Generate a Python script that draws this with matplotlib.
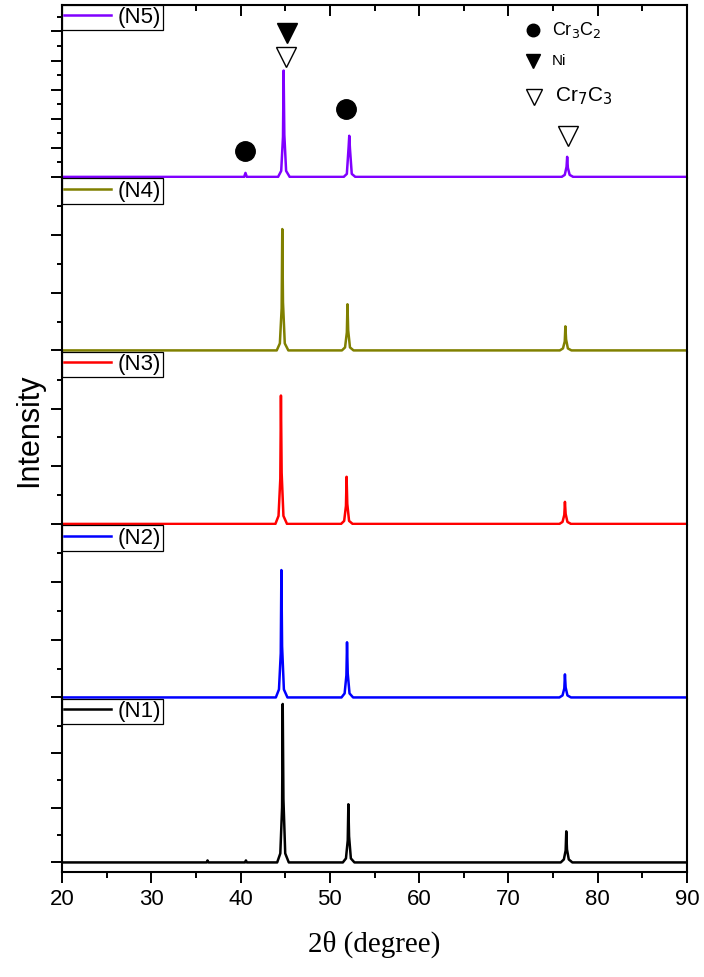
import matplotlib.pyplot as plt
from matplotlib.ticker import MultipleLocator

plt.rcParams['font.family'] = ['Liberation Sans', 'DejaVu Sans']

# XRD patterns, 2theta (degree) vs intensity (a.u.)
x_n1 = [20, 36.2, 36.3, 36.4, 40.5, 40.6, 40.7,
        44.1, 44.45, 44.65, 44.72, 44.8, 45.0, 45.4,
        51.45, 51.8, 52.0, 52.07, 52.15, 52.35, 52.75,
        75.85, 76.2, 76.4, 76.47, 76.55, 76.75, 77.15, 90]
y_n1 = [0, 0, 2, 0, 0, 2, 0,
        0, 9, 55, 158, 63, 9, 0,
        0, 4, 22, 58, 26, 4, 0,
        0, 3, 12, 31, 13, 3, 0, 0]

x_n2 = [20, 43.95, 44.3, 44.5, 44.57, 44.65, 44.85, 45.25,
        51.3, 51.65, 51.85, 51.92, 52.0, 52.2, 52.6,
        75.7, 76.05, 76.25, 76.32, 76.4, 76.6, 77.0, 90]
y_n2 = [0, 0, 8, 44, 127, 51, 8, 0,
        0, 4, 22, 55, 24, 4, 0,
        0, 2, 9, 23, 10, 2, 0, 0]

x_n3 = [20, 43.9, 44.25, 44.45, 44.52, 44.6, 44.8, 45.2,
        51.25, 51.6, 51.8, 51.87, 51.95, 52.15, 52.55,
        75.7, 76.05, 76.25, 76.32, 76.4, 76.6, 77.0, 90]
y_n3 = [0, 0, 8, 45, 128, 51, 8, 0,
        0, 3, 18, 47, 20, 3, 0,
        0, 2, 9, 22, 10, 2, 0, 0]

x_n4 = [20, 44.05, 44.4, 44.6, 44.67, 44.75, 44.95, 45.35,
        51.35, 51.7, 51.9, 51.97, 52.05, 52.25, 52.65,
        75.75, 76.1, 76.3, 76.37, 76.45, 76.65, 77.05, 90]
y_n4 = [0, 0, 7, 42, 121, 48, 7, 0,
        0, 3, 18, 46, 20, 3, 0,
        0, 2, 9, 24, 11, 2, 0, 0]

x_n5 = [20, 40.4, 40.55, 40.7,
        44.2, 44.55, 44.75, 44.82, 44.9, 45.1, 45.5,
        51.55, 51.9, 52.1, 52.17, 52.25, 52.45, 52.85,
        75.95, 76.3, 76.5, 76.57, 76.65, 76.85, 77.25, 90]
y_n5 = [0, 0, 4, 0,
        0, 6, 40, 106, 42, 6, 0,
        0, 3, 30, 41, 28, 3, 0,
        0, 2, 10, 20, 9, 2, 0, 0]

samples = ['(N5)', '(N4)', '(N3)', '(N2)', '(N1)']
colors = ['#8000FF', '#808000', '#FF0000', '#0000FF', '#000000']
xs = [x_n5, x_n4, x_n3, x_n2, x_n1]
ys = [y_n5, y_n4, y_n3, y_n2, y_n1]

fig, axes = plt.subplots(5, 1, sharex=True, figsize=(7.04, 9.77), dpi=100,
                         gridspec_kw={'hspace': 0})
fig.subplots_adjust(left=0.088, right=0.976, top=0.995, bottom=0.107)

steps = [29, 57.5, 57.5, 57.5, 54.5]
for i, ax in enumerate(axes):
    ax.plot(xs[i], ys[i], color=colors[i], lw=1.8, label=samples[i])
    ax.set_xlim(20, 90)
    if i == 4:
        ax.set_ylim(-10, 163)
    else:
        ax.set_ylim(-1.5, 171.5)
    ax.yaxis.set_major_locator(MultipleLocator(steps[i]))
    ax.yaxis.set_minor_locator(MultipleLocator(steps[i] / 2))
    ax.tick_params(axis='y', which='both', direction='out', labelleft=False, width=1.4)
    ax.tick_params(axis='y', which='major', length=8)
    ax.tick_params(axis='y', which='minor', length=3.5)
    for s in ax.spines.values():
        s.set_linewidth(1.5)
    ax.spines['top'].set_visible(i == 0)
    ax.spines['bottom'].set_visible(i == 4)
    ax.xaxis.set_major_locator(MultipleLocator(10))
    ax.xaxis.set_minor_locator(MultipleLocator(5))
    if i == 0:
        ax.tick_params(axis='x', which='both', direction='in', top=True, bottom=False,
                       labelbottom=False, width=1.4)
        ax.tick_params(axis='x', which='major', length=8)
        ax.tick_params(axis='x', which='minor', length=4)
    elif i == 4:
        ax.tick_params(axis='x', which='both', direction='out', top=False, bottom=True,
                       width=1.4, labelsize=16, pad=4)
        ax.tick_params(axis='x', which='major', length=8)
        ax.tick_params(axis='x', which='minor', length=4)
    else:
        ax.tick_params(axis='x', which='both', top=False, bottom=False, labelbottom=False)
    leg = ax.legend(loc='upper left', bbox_to_anchor=(0, 1), borderaxespad=0,
                    fancybox=False, edgecolor='black', framealpha=1, fontsize=16,
                    borderpad=0.1, handlelength=2.1, handletextpad=0.3)
    leg.get_frame().set_linewidth(0.9)

# phase markers on the top pattern
top = axes[0]
top.plot([40.5, 51.8], [26, 68], 'o', color='black', ms=14, clip_on=False)
top.plot([45.2], [143], 'v', color='black', ms=15, clip_on=False)
top.plot([45.1, 76.7], [120, 41], 'v', mfc='white', mec='black', mew=1, ms=15, clip_on=False)

# phase key
top.plot([72.75], [146], 'o', color='black', ms=9)
top.plot([72.75], [116], 'v', color='black', ms=10)
top.plot([72.9], [80], 'v', mfc='white', mec='black', mew=1, ms=11)
top.text(74.9, 146, 'Cr$_3$C$_2$', fontsize=13, va='center')
top.text(74.9, 116, 'Ni', fontsize=11, va='center')
top.text(75.2, 80, 'Cr$_7$C$_3$', fontsize=15, va='center')

fig.text(0.042, 0.56, 'Intensity', rotation=90, fontsize=22, ha='center', va='center')
fig.text(0.532, 0.033, '2θ (degree)', family=['Liberation Serif', 'DejaVu Serif'],
         fontsize=21, ha='center', va='center')

fig.savefig('out.png', dpi=100)
